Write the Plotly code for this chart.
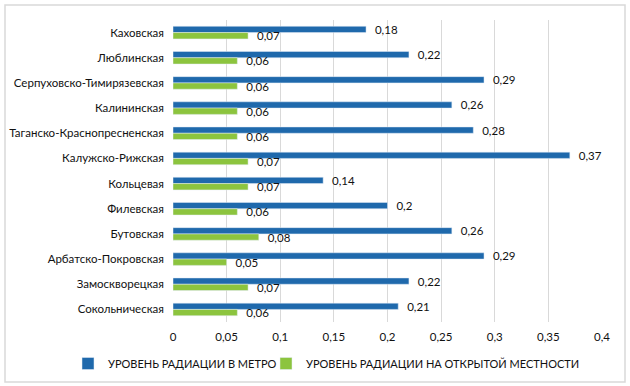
import plotly.graph_objects as go

categories = ["Каховская", "Люблинская", "Серпуховско-Тимирязевская", "Калининская",
              "Таганско-Краснопресненская", "Калужско-Рижская", "Кольцевая", "Филевская",
              "Бутовская", "Арбатско-Покровская", "Замоскворецкая", "Сокольническая"]
metro = [0.18, 0.22, 0.29, 0.26, 0.28, 0.37, 0.14, 0.2, 0.26, 0.29, 0.22, 0.21]
open_area = [0.07, 0.06, 0.06, 0.06, 0.06, 0.07, 0.07, 0.06, 0.08, 0.05, 0.07, 0.06]
series_names = ["УРОВЕНЬ РАДИАЦИИ В МЕТРО", "УРОВЕНЬ РАДИАЦИИ НА ОТКРЫТОЙ МЕСТНОСТИ"]
tick_vals = [0, 0.05, 0.1, 0.15, 0.2, 0.25, 0.3, 0.35, 0.4]

FONT = "Lato, Liberation Sans, sans-serif"
L, R, T, B = 173, 28, 20, 64
PW = 630 - L - R
PH = 386 - T - B

fig = go.Figure()
fig.add_trace(go.Bar(y=categories, x=metro, orientation="h", name=series_names[0],
                     marker=dict(color="#1F69AC"), texttemplate="  %{x}",
                     textposition="outside", constraintext="none", cliponaxis=False,
                     textfont=dict(size=11.5, color="#111111", family=FONT),
                     legend="legend"))
fig.add_trace(go.Bar(y=categories, x=open_area, orientation="h", name=series_names[1],
                     marker=dict(color="#8CC43E"), texttemplate="  %{x}",
                     textposition="outside", constraintext="none", cliponaxis=False,
                     textfont=dict(size=11.5, color="#111111", family=FONT),
                     legend="legend2"))

leg_y = -(349 - (386 - B)) / PH
fig.update_layout(
    width=630, height=386,
    margin=dict(l=L, r=R, t=T, b=B, autoexpand=False),
    paper_bgcolor="white", plot_bgcolor="white",
    separators=", ",
    barmode="group", bargap=0.5, bargroupgap=0.0,
    font=dict(family=FONT, size=11.5, color="#111111"),
    xaxis=dict(range=[0, 0.4], tickvals=tick_vals, showgrid=True, gridcolor="#D9D9D9",
               gridwidth=1, zeroline=False, showline=False, ticks="",
               tickfont=dict(size=11.5), ticklabelstandoff=6, automargin=False),
    yaxis=dict(autorange="reversed", showgrid=False, showline=False, ticks="",
               ticklabelstandoff=8, tickfont=dict(size=11.5), automargin=False),
    legend=dict(orientation="h", x=(68 - L) / PW, xanchor="left", y=leg_y, yanchor="top",
                font=dict(size=11), bgcolor="rgba(0,0,0,0)"),
    legend2=dict(orientation="h", x=(266 - L) / PW, xanchor="left", y=leg_y, yanchor="top",
                 font=dict(size=11), bgcolor="rgba(0,0,0,0)"),
    showlegend=True,
    shapes=[dict(type="rect", xref="paper", yref="paper",
                 x0=(5 - L) / PW, x1=(625 - L) / PW,
                 y0=-(382 - (386 - B)) / PH, y1=1 + (T - 5) / PH,
                 line=dict(color="#D9D9D9", width=1.5), layer="below")],
)

fig.write_html("out.html", config={"displayModeBar": False},
               post_script="document.body.style.margin='0px';")
